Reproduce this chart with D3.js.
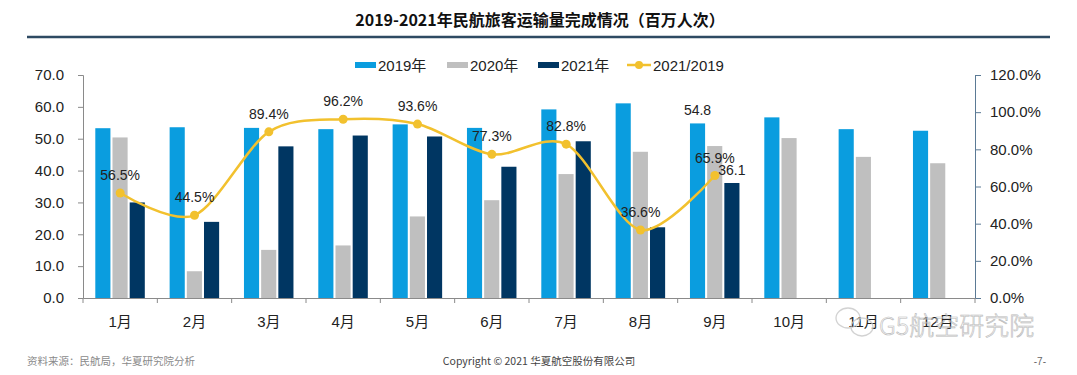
<!DOCTYPE html>
<html>
<head>
<meta charset="utf-8">
<script src="https://cdn.jsdelivr.net/npm/d3@7"></script>
<style>
  body { margin: 0; background: #fff; }
  svg { display: block; font-family: "Liberation Sans", Arial, "Noto Sans CJK SC", sans-serif; }
</style>
</head>
<body>
<script>
// Data //////////////////////////////////////////////////////////////
const months = ["1月", "2月", "3月", "4月", "5月", "6月", "7月", "8月", "9月", "10月", "11月", "12月"];
const seriesNames = ["2019年", "2020年", "2021年"];
const v2019 = [53.3, 53.6, 53.4, 53.0, 54.5, 53.4, 59.2, 61.1, 54.8, 56.7, 53.0, 52.5];
const v2020 = [50.4, 8.4, 15.1, 16.5, 25.6, 30.7, 38.9, 45.9, 47.7, 50.2, 44.3, 42.3];
const v2021 = [30.0, 23.9, 47.6, 51.0, 50.7, 41.2, 49.2, 22.2, 36.1, null, null, null];
const ratio = [56.5, 44.5, 89.4, 96.2, 93.6, 77.3, 82.8, 36.6, 65.9];
const leftTicks = [0, 10, 20, 30, 40, 50, 60, 70];
const rightTicks = [0, 20, 40, 60, 80, 100, 120];
const ratioName = "2021/2019";

const colors = ["#0a9ddf", "#bfbfbf", "#003662"];
const lineColor = "#f2c12e";

// Setup ////////////////////////////////////////////////////////////
var W = 1077, H = 375;
var plot = {left: 83, right: 975, top: 75, bottom: 298};

var svg = d3.select("body").append("svg")
    .attr("width", W)
    .attr("height", H);

var x = d3.scaleBand()
    .domain(months)
    .range([plot.left, plot.right]);

var xs = d3.scaleBand()
    .domain(seriesNames)
    .range([12.3, 61.8])
    .paddingInner(0.12);

var y = d3.scaleLinear().domain([0, 70]).range([plot.bottom, plot.top]);
var y2 = d3.scaleLinear().domain([0, 120]).range([plot.bottom, plot.top]);

// Title + rule
svg.append("text")
    .attr("x", 540).attr("y", 26)
    .attr("text-anchor", "middle")
    .style("font-family", "'Noto Sans CJK SC', sans-serif")
    .style("font-weight", "bold")
    .style("font-size", "16px")
    .attr("fill", "#111")
    .text("2019-2021年民航旅客运输量完成情况（百万人次）");

svg.append("line")
    .attr("x1", 27).attr("x2", 1050)
    .attr("y1", 37).attr("y2", 37)
    .attr("stroke", "#2e4a62")
    .attr("stroke-width", 2.5);

// Bars
var barData = [v2019, v2020, v2021];
barData.forEach(function(vals, si) {
  svg.append("g").selectAll("rect")
    .data(vals.map(function(v, i) { return {m: months[i], v: v}; }).filter(function(d) { return d.v != null; }))
    .enter().append("rect")
    .attr("x", function(d) { return x(d.m) + xs(seriesNames[si]); })
    .attr("y", function(d) { return y(d.v); })
    .attr("width", xs.bandwidth())
    .attr("height", function(d) { return y(0) - y(d.v); })
    .attr("fill", colors[si]);
});

// Axes
var axisColor = "#8a8a8a";

var yAxis = svg.append("g")
    .attr("transform", "translate(" + plot.left + ",0)")
    .call(d3.axisLeft(y).tickValues(leftTicks).tickSize(5).tickPadding(14)
      .tickFormat(d3.format(".1f")));
yAxis.selectAll("path, line").attr("stroke", axisColor);
yAxis.selectAll("text").style("font-size", "15px").attr("fill", "#222");

var y2Axis = svg.append("g")
    .attr("transform", "translate(" + plot.right + ",0)")
    .call(d3.axisRight(y2).tickValues(rightTicks).tickSize(6).tickPadding(9)
      .tickFormat(function(d) { return d.toFixed(1) + "%"; }));
y2Axis.selectAll("path, line").attr("stroke", "#5b7a95");
y2Axis.selectAll("text").style("font-size", "15px").attr("fill", "#222");

// x axis: baseline + ticks at band edges + labels at centers
var xAxis = svg.append("g")
    .attr("transform", "translate(0," + plot.bottom + ")")
    .call(d3.axisBottom(x).tickSize(0).tickPadding(18));
xAxis.select(".domain").attr("stroke", axisColor);
xAxis.selectAll("text").style("font-size", "15px").attr("fill", "#222")
    .style("font-family", "'Liberation Sans', 'Noto Sans CJK SC', sans-serif");

svg.append("g").selectAll("line")
    .data(months.concat(["end"]))
    .enter().append("line")
    .attr("x1", function(d, i) { return plot.left + i * x.step(); })
    .attr("x2", function(d, i) { return plot.left + i * x.step(); })
    .attr("y1", plot.bottom)
    .attr("y2", plot.bottom + 5)
    .attr("stroke", axisColor);

// Ratio line
var ratioData = ratio.map(function(v, i) { return {m: months[i], v: v}; });
var cx = function(d) { return x(d.m) + x.bandwidth() / 2; };

svg.append("path")
    .datum(ratioData)
    .attr("fill", "none")
    .attr("stroke", lineColor)
    .attr("stroke-width", 2.5)
    .attr("d", d3.line().x(cx).y(function(d) { return y2(d.v); }).curve(d3.curveCardinal.tension(0.1)));

svg.append("g").selectAll("circle")
    .data(ratioData)
    .enter().append("circle")
    .attr("cx", cx)
    .attr("cy", function(d) { return y2(d.v); })
    .attr("r", 4.5)
    .attr("fill", lineColor);

// Data labels
svg.append("g").selectAll("text")
    .data(ratioData)
    .enter().append("text")
    .attr("x", cx)
    .attr("y", function(d) { return y2(d.v) - 13; })
    .attr("text-anchor", "middle")
    .style("font-size", "14px")
    .attr("fill", "#222")
    .text(function(d) { return d.v.toFixed(1) + "%"; });

// Value labels on September bars
var sep = months[8];
[[0, v2019[8]], [2, v2021[8]]].forEach(function(p) {
  svg.append("text")
    .attr("x", x(sep) + xs(seriesNames[p[0]]) + xs.bandwidth() / 2)
    .attr("y", y(p[1]) - 8)
    .attr("text-anchor", "middle")
    .style("font-size", "14px")
    .attr("fill", "#222")
    .text(p[1].toFixed(1));
});

// Legend
var legendX = [355, 447, 538];
seriesNames.forEach(function(name, i) {
  svg.append("rect")
    .attr("x", legendX[i]).attr("y", 62)
    .attr("width", 21).attr("height", 6)
    .attr("fill", colors[i]);
  svg.append("text")
    .attr("x", legendX[i] + 23).attr("y", 70.5)
    .style("font-size", "15px")
    .attr("fill", "#222")
    .text(name);
});
svg.append("line")
    .attr("x1", 627).attr("x2", 651)
    .attr("y1", 65).attr("y2", 65)
    .attr("stroke", lineColor).attr("stroke-width", 2.5);
svg.append("circle")
    .attr("cx", 639).attr("cy", 65).attr("r", 4)
    .attr("fill", lineColor);
svg.append("text")
    .attr("x", 653).attr("y", 70.5)
    .style("font-size", "15px")
    .attr("fill", "#222")
    .text(ratioName);

// Footer
var footFont = "'Noto Sans CJK SC', sans-serif";
svg.append("text")
    .attr("x", 27).attr("y", 365)
    .style("font-family", footFont)
    .style("font-size", "10.5px")
    .attr("fill", "#8a8a8a")
    .text("资料来源：民航局，华夏研究院分析");
svg.append("text")
    .attr("x", 539).attr("y", 365)
    .attr("text-anchor", "middle")
    .style("font-family", footFont)
    .style("font-size", "10.5px")
    .attr("fill", "#444")
    .text("Copyright © 2021 华夏航空股份有限公司");
svg.append("text")
    .attr("x", 1046).attr("y", 365)
    .attr("text-anchor", "end")
    .style("font-size", "10px")
    .attr("fill", "#666")
    .text("-7-");

// Watermark (semi transparent overlay, like the reference)
var wm = svg.append("g").attr("opacity", 0.8);
wm.append("ellipse")
    .attr("cx", 848).attr("cy", 318).attr("rx", 12).attr("ry", 10)
    .attr("fill", "none").attr("stroke", "#c8c8c8").attr("stroke-width", 1.3);
wm.append("ellipse")
    .attr("cx", 862).attr("cy", 327).attr("rx", 11).attr("ry", 9)
    .attr("fill", "none").attr("stroke", "#c8c8c8").attr("stroke-width", 1.3);
wm.append("text")
    .attr("x", 879).attr("y", 335)
    .style("font-family", footFont)
    .style("font-size", "25px")
    .style("font-weight", "300")
    .attr("fill", "rgba(255,255,255,0.6)")
    .attr("stroke", "#a8a8a8")
    .attr("stroke-width", 0.6)
    .text("G5航空研究院");
</script>
</body>
</html>
